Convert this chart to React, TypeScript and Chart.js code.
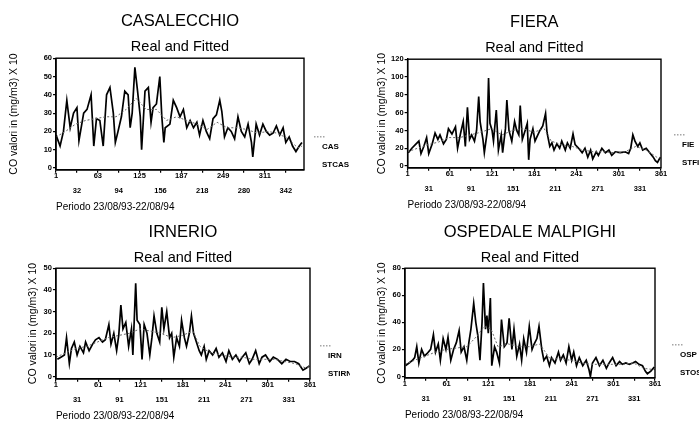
import React, { useEffect, useRef } from 'react';
import { Chart, registerables } from 'chart.js';

Chart.register(...registerables);

const FONT = '"Liberation Sans", Arial, Helvetica, sans-serif';
const Y_TITLE = 'CO valori in (mg/m3) X 10';
const X_TITLE = 'Periodo 23/08/93-22/08/94';
const SUBTITLE = 'Real and Fitted';

// ---------- tick labels ----------
const casXTicks = [1, 32, 63, 94, 125, 156, 187, 218, 249, 280, 311, 342];
const stdXTicks = [1, 31, 61, 91, 121, 151, 181, 211, 241, 271, 301, 331, 361];
const casYTicks = [0, 10, 20, 30, 40, 50, 60];
const fieYTicks = [0, 20, 40, 60, 80, 100, 120];
const irnYTicks = [0, 10, 20, 30, 40, 50];
const ospYTicks = [0, 20, 40, 60, 80];

// ---------- CASALECCHIO ----------
const casDays = [1, 7, 12, 17, 22, 27, 32, 35, 42, 47, 53, 57, 61, 66, 71, 76, 81, 86, 89, 93, 98, 103, 108, 111, 114, 118, 122, 126, 128, 133, 138, 142, 145, 150, 155, 158, 161, 163, 170, 175, 180, 185, 190, 195, 200, 205, 210, 214, 219, 224, 229, 234, 239, 244, 247, 251, 256, 261, 266, 271, 276, 281, 286, 291, 293, 298, 303, 308, 313, 318, 323, 328, 333, 338, 342, 347, 352, 357, 362, 366];
const casReal = [18, 12, 20, 37, 22, 30, 33, 15, 30, 32, 40, 12, 27, 26, 12, 40, 44, 30, 14, 20, 28, 42, 40, 22, 30, 55, 42, 28, 10, 42, 44, 25, 33, 35, 50, 28, 14, 22, 24, 37, 33, 28, 32, 22, 26, 22, 25, 18, 26, 20, 16, 27, 29, 37, 31, 17, 22, 20, 16, 28, 20, 17, 24, 14, 6, 24, 18, 24, 20, 18, 19, 23, 18, 22, 14, 17, 12, 9, 12, 14];
const casFitDays = [1, 15, 30, 45, 60, 75, 90, 105, 120, 135, 150, 165, 180, 195, 210, 225, 240, 255, 270, 285, 300, 315, 330, 345, 360, 366];
const casFit = [17, 20, 24, 26, 27, 28, 28, 32, 38, 32, 32, 26, 28, 26, 24, 21, 25, 22, 22, 21, 19, 20, 19, 16, 11, 12];

// ---------- FIERA ----------
const fieDays = [2, 7, 12, 17, 20, 24, 28, 31, 36, 40, 44, 47, 52, 56, 59, 64, 69, 72, 76, 80, 83, 86, 89, 92, 96, 99, 102, 104, 108, 110, 114, 116, 118, 121, 123, 127, 130, 134, 136, 140, 142, 145, 149, 153, 156, 159, 161, 164, 168, 171, 173, 175, 179, 182, 186, 189, 193, 197, 199, 203, 206, 209, 213, 217, 220, 225, 228, 232, 236, 239, 244, 249, 253, 257, 261, 264, 269, 272, 277, 282, 287, 291, 296, 303, 310, 315, 318, 321, 324, 328, 331, 335, 340, 345, 350, 353, 356, 360];
const fieReal = [15, 20, 24, 28, 14, 22, 32, 14, 25, 37, 30, 35, 25, 30, 42, 36, 44, 20, 36, 50, 22, 66, 30, 35, 28, 40, 78, 50, 30, 15, 38, 99, 48, 40, 28, 63, 18, 35, 15, 42, 74, 40, 28, 50, 40, 35, 68, 30, 40, 48, 7, 30, 42, 28, 35, 40, 45, 59, 38, 22, 26, 18, 25, 20, 28, 18, 26, 20, 36, 24, 20, 15, 20, 10, 18, 8, 16, 12, 20, 15, 18, 12, 16, 15, 16, 14, 20, 35, 28, 22, 26, 18, 20, 15, 10, 6, 4, 10];
const fieFitDays = [1, 15, 30, 45, 60, 75, 90, 105, 120, 135, 150, 165, 180, 195, 205, 220, 235, 250, 265, 280, 295, 310, 325, 340, 355, 361];
const fieFit = [16, 20, 24, 27, 32, 32, 35, 38, 42, 35, 40, 42, 38, 42, 28, 24, 22, 18, 16, 16, 15, 16, 22, 18, 10, 9];

// ---------- IRNERIO ----------
const irnDays = [3, 8, 13, 16, 20, 23, 27, 31, 35, 40, 43, 48, 53, 57, 62, 67, 71, 76, 79, 83, 87, 90, 93, 96, 100, 104, 108, 110, 114, 116, 120, 123, 126, 130, 134, 137, 140, 144, 148, 151, 154, 158, 162, 165, 168, 172, 176, 179, 183, 186, 190, 193, 196, 200, 204, 207, 211, 214, 218, 223, 228, 232, 237, 242, 246, 251, 256, 261, 265, 270, 275, 279, 284, 289, 293, 298, 304, 309, 315, 321, 327, 333, 339, 345, 351, 356, 360];
const irnReal = [8, 9, 10, 18, 6, 13, 16, 10, 14, 11, 16, 12, 15, 17, 18, 16, 17, 24, 15, 20, 12, 19, 33, 22, 25, 14, 22, 10, 43, 26, 24, 8, 24, 20, 10, 18, 28, 20, 16, 32, 22, 30, 18, 20, 9, 18, 14, 26, 18, 14, 20, 28, 20, 16, 12, 10, 14, 8, 12, 10, 13, 9, 11, 7, 12, 8, 10, 7, 9, 11, 6, 8, 12, 6, 9, 10, 7, 9, 8, 6, 8, 7, 7, 6, 3, 4, 5];
const irnFitDays = [1, 15, 30, 45, 60, 75, 90, 105, 120, 135, 150, 165, 180, 195, 205, 220, 235, 250, 265, 280, 295, 310, 325, 340, 355, 361];
const irnFit = [9, 11, 13, 14, 16, 18, 19, 20, 22, 21, 20, 18, 19, 21, 14, 11, 10, 9, 9, 8, 8, 8, 7, 6, 4, 5];

// ---------- OSPEDALE MALPIGHI ----------
const ospDays = [2, 7, 12, 15, 18, 21, 25, 29, 33, 38, 42, 45, 49, 52, 56, 60, 63, 67, 71, 75, 79, 82, 86, 90, 93, 96, 100, 103, 106, 109, 112, 114, 117, 119, 121, 124, 126, 130, 133, 137, 140, 144, 148, 151, 155, 158, 162, 166, 169, 172, 176, 180, 184, 187, 191, 194, 198, 201, 205, 209, 212, 217, 222, 225, 229, 233, 237, 241, 244, 248, 252, 257, 262, 266, 268, 271, 276, 281, 286, 291, 295, 300, 305, 310, 314, 319, 324, 329, 333, 338, 343, 347, 350, 355, 360];
const ospReal = [8, 10, 12, 14, 22, 10, 20, 15, 17, 20, 31, 18, 24, 12, 28, 20, 29, 12, 20, 25, 34, 18, 22, 12, 25, 35, 54, 40, 30, 12, 40, 69, 35, 45, 32, 58, 8, 22, 18, 10, 42, 22, 25, 43, 20, 35, 15, 24, 12, 28, 18, 37, 20, 24, 28, 37, 20, 12, 15, 8, 14, 10, 18, 12, 16, 10, 22, 12, 18, 8, 14, 8, 12, 5, 0, 10, 14, 8, 12, 6, 10, 14, 8, 11, 9, 10, 9, 10, 11, 9, 8, 4, 2, 4, 7];
const ospFitDays = [1, 15, 30, 45, 60, 75, 90, 105, 115, 125, 135, 150, 165, 180, 195, 210, 225, 240, 255, 270, 285, 300, 315, 330, 345, 361];
const ospFit = [9, 12, 15, 18, 20, 21, 22, 30, 37, 35, 22, 24, 22, 22, 24, 13, 13, 12, 10, 9, 9, 9, 9, 10, 6, 5];

type PanelDef = {
  title: string;
  realLabel: string;
  fitLabel: string;
  days: number[];
  real: number[];
  fitDays: number[];
  fit: number[];
  xTicks: number[];
  xMax: number;
  yTicks: number[];
  yMin: number;
  left: number;
  top: number;
  width: number;
  height: number;
  titleTop: number;
  subTop: number;
  subBottom: number;
  xTitleBottom: number;
  yTitleTop: number;
  yTitleBottom: number;
  padRight: number;
  legendDx: number;
};

const panels: PanelDef[] = [
  {
    title: 'CASALECCHIO', realLabel: 'CAS', fitLabel: 'STCAS',
    days: casDays, real: casReal, fitDays: casFitDays, fit: casFit,
    xTicks: casXTicks, xMax: 369, yTicks: casYTicks, yMin: -1,
    left: 0, top: 0, width: 350, height: 215,
    titleTop: 12, subTop: 6, subBottom: 3, xTitleBottom: 2,
    yTitleTop: 8, yTitleBottom: 22.1, padRight: 46, legendDx: 18,
  },
  {
    title: 'FIERA', realLabel: 'FIE', fitLabel: 'STFIE',
    days: fieDays, real: fieReal, fitDays: fieFitDays, fit: fieFit,
    xTicks: stdXTicks, xMax: 361, yTicks: fieYTicks, yMin: -2,
    left: 350, top: 0, width: 349, height: 215,
    titleTop: 13, subTop: 6, subBottom: 3, xTitleBottom: 4,
    yTitleTop: 26, yTitleBottom: 1.5, padRight: 38, legendDx: 21,
  },
  {
    title: 'IRNERIO', realLabel: 'IRN', fitLabel: 'STIRN',
    days: irnDays, real: irnReal, fitDays: irnFitDays, fit: irnFit,
    xTicks: stdXTicks, xMax: 361, yTicks: irnYTicks, yMin: -1,
    left: 0, top: 215, width: 350, height: 207,
    titleTop: 8, subTop: 6, subBottom: 2, xTitleBottom: 0,
    yTitleTop: 27, yTitleBottom: 3, padRight: 40, legendDx: 18,
  },
  {
    title: 'OSPEDALE MALPIGHI', realLabel: 'OSP', fitLabel: 'STOS',
    days: ospDays, real: ospReal, fitDays: ospFitDays, fit: ospFit,
    xTicks: stdXTicks, xMax: 361, yTicks: ospYTicks, yMin: -1,
    left: 350, top: 215, width: 349, height: 207,
    titleTop: 8, subTop: 6, subBottom: 2, xTitleBottom: 1,
    yTitleTop: 26, yTitleBottom: 3, padRight: 44, legendDx: 25,
  },
];

const decorPlugin = {
  id: 'decor',
  afterDraw(chart: any, _args: any, opts: any) {
    const { ctx, chartArea: a } = chart;
    ctx.save();
    ctx.strokeStyle = '#000';
    ctx.lineWidth = 1.4;
    ctx.strokeRect(a.left, a.top, a.right - a.left, a.bottom - a.top);
    const x = a.right + opts.legendDx;
    ctx.setLineDash([1.5, 1.5]);
    ctx.lineWidth = 1;
    ctx.strokeStyle = '#777';
    ctx.beginPath();
    ctx.moveTo(x - 8, a.bottom - 33);
    ctx.lineTo(x + 4, a.bottom - 33);
    ctx.stroke();
    ctx.setLineDash([]);
    ctx.fillStyle = '#000';
    ctx.font = 'bold 8px ' + FONT;
    ctx.textAlign = 'left';
    ctx.textBaseline = 'middle';
    ctx.fillText(opts.labels[0], x, a.bottom - 23);
    ctx.fillText(opts.labels[1], x, a.bottom - 5);
    ctx.restore();
  },
};

function Panel({ p }: { p: PanelDef }) {
  const ref = useRef<HTMLCanvasElement | null>(null);
  useEffect(() => {
    if (!ref.current) return;
    const axisColor = '#000';
    const tickFont = { family: FONT, size: 7.5, weight: 'bold' as const, lineHeight: 0.94 };
    const chart = new Chart(ref.current, {
      type: 'line',
      data: {
        datasets: [
          {
            label: p.fitLabel,
            data: p.fitDays.map((d, i) => ({ x: d, y: p.fit[i] })),
            borderColor: '#666',
            borderWidth: 1,
            borderDash: [2, 2],
            pointRadius: 0,
            tension: 0,
            order: 0,
          },
          {
            label: p.realLabel,
            data: p.days.map((d, i) => ({ x: d, y: p.real[i] })),
            borderColor: '#000',
            borderWidth: 1.7,
            pointRadius: 0,
            tension: 0,
            order: 1,
          },
        ],
      },
      options: {
        animation: false,
        responsive: false,
        maintainAspectRatio: false,
        events: [],
        layout: { padding: { left: 0, right: p.padRight, top: 0, bottom: 0 } },
        plugins: {
          legend: { display: false },
          tooltip: { enabled: false },
          title: {
            display: true,
            text: p.title,
            fullSize: false,
            color: '#000',
            font: { family: FONT, size: 16.5, weight: 'normal' },
            padding: { top: p.titleTop, bottom: 0 },
          },
          subtitle: {
            display: true,
            text: SUBTITLE,
            fullSize: false,
            color: '#000',
            font: { family: FONT, size: 14.5, weight: 'normal' },
            padding: { top: p.subTop, bottom: p.subBottom },
          },
          decor: { labels: [p.realLabel, p.fitLabel], legendDx: p.legendDx },
        } as any,
        scales: {
          x: {
            type: 'linear',
            min: 1,
            max: p.xMax,
            afterBuildTicks: (s: any) => {
              s.ticks = p.xTicks.map((v) => ({ value: v }));
            },
            grid: { display: true, drawOnChartArea: false, drawTicks: true, tickLength: 3, color: axisColor, lineWidth: 1.2 },
            border: { display: true, color: axisColor, width: 1.4 },
            ticks: {
              autoSkip: false,
              maxRotation: 0,
              padding: 0,
              color: axisColor,
              font: tickFont,
              callback: (v: any, i: number) => (i % 2 === 0 ? [String(v), '', ''] : ['', '', String(v)]),
            },
            title: {
              display: true,
              text: X_TITLE,
              align: 'start',
              color: axisColor,
              font: { family: FONT, size: 10 },
              padding: { top: 7, bottom: p.xTitleBottom },
            },
          },
          y: {
            type: 'linear',
            min: p.yMin,
            max: p.yTicks[p.yTicks.length - 1],
            afterBuildTicks: (s: any) => {
              s.ticks = p.yTicks.map((v) => ({ value: v }));
            },
            grid: { display: true, drawOnChartArea: false, drawTicks: true, tickLength: 3, color: axisColor, lineWidth: 1.2 },
            border: { display: true, color: axisColor, width: 1.4 },
            ticks: { padding: 1, color: axisColor, font: { family: FONT, size: 7.5, weight: 'bold' } },
            title: {
              display: true,
              text: Y_TITLE,
              color: axisColor,
              font: { family: FONT, size: 10.5 },
              padding: { top: p.yTitleTop, bottom: p.yTitleBottom },
            },
          },
        },
      },
      plugins: [decorPlugin],
    } as any);
    return () => chart.destroy();
  }, [p]);
  return (
    <canvas
      ref={ref}
      width={p.width}
      height={p.height}
      style={{ position: 'absolute', left: p.left, top: p.top, width: p.width, height: p.height }}
    />
  );
}

export default function App() {
  return (
    <div
      style={{
        position: 'absolute',
        left: 0,
        top: 0,
        width: 699,
        height: 422,
        overflow: 'hidden',
        background: '#fff',
      }}
    >
      {panels.map((p) => (
        <Panel key={p.title} p={p} />
      ))}
    </div>
  );
}
